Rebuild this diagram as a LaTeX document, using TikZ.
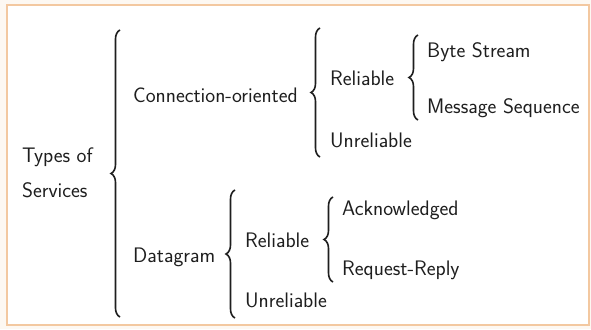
\documentclass[tikz,border=0pt]{standalone}
\usepackage{fontspec}
\usetikzlibrary{decorations.pathreplacing}
\definecolor{framepeach}{RGB}{243,200,160}
\definecolor{outerpeach}{RGB}{253,248,242}
\definecolor{inktext}{RGB}{30,30,30}
\begin{document}
\begin{tikzpicture}[x=1pt,y=-1pt,
  lbl/.style={anchor=base west,inner sep=0pt,text=inktext,
    font=\sffamily\fontsize{21}{35}\selectfont},
  brc/.style={draw=inktext,line width=1.6pt,decorate,
    decoration={brace,amplitude=9pt}}]
  % page and frame
  \fill[outerpeach] (0,0) rectangle (591,329);
  \useasboundingbox (0,0) rectangle (591,329);
  \filldraw[fill=white,draw=framepeach,line width=1.6pt] (7,5) rectangle (589,325);

  % labels
  \node[lbl,align=left,anchor=west] (root) at (22,173) {Types of\\Services};
  \node[lbl] (conn) at (133,102) {Connection-oriented};
  \node[lbl] (crel) at (330,85) {Reliable};
  \node[lbl] (byte) at (427,57) {Byte Stream};
  \node[lbl] (msg)  at (427,113) {Message Sequence};
  \node[lbl] (cunr) at (330,147) {Unreliable};
  \node[lbl] (dgram) at (133,262) {Datagram};
  \node[lbl] (drel) at (245,247) {Reliable};
  \node[lbl] (ack)  at (342,215) {Acknowledged};
  \node[lbl] (rr)   at (342,275) {Request-Reply};
  \node[lbl] (dunr) at (245,307) {Unreliable};

  % brace end points
  \coordinate (b1t) at (120,30);  \coordinate (b1b) at (120,317);
  \coordinate (b2t) at (320,28);  \coordinate (b2b) at (320,157);
  \coordinate (b3t) at (418,35);  \coordinate (b3b) at (418,120);
  \coordinate (b4t) at (235,190); \coordinate (b4b) at (235,318);
  \coordinate (b5t) at (333,197); \coordinate (b5b) at (333,282);

  % braces
  \draw[brc] (b1b) -- (b1t);
  \draw[brc] (b2b) -- (b2t);
  \draw[brc] (b3b) -- (b3t);
  \draw[brc] (b4b) -- (b4t);
  \draw[brc] (b5b) -- (b5t);
\end{tikzpicture}
\end{document}
